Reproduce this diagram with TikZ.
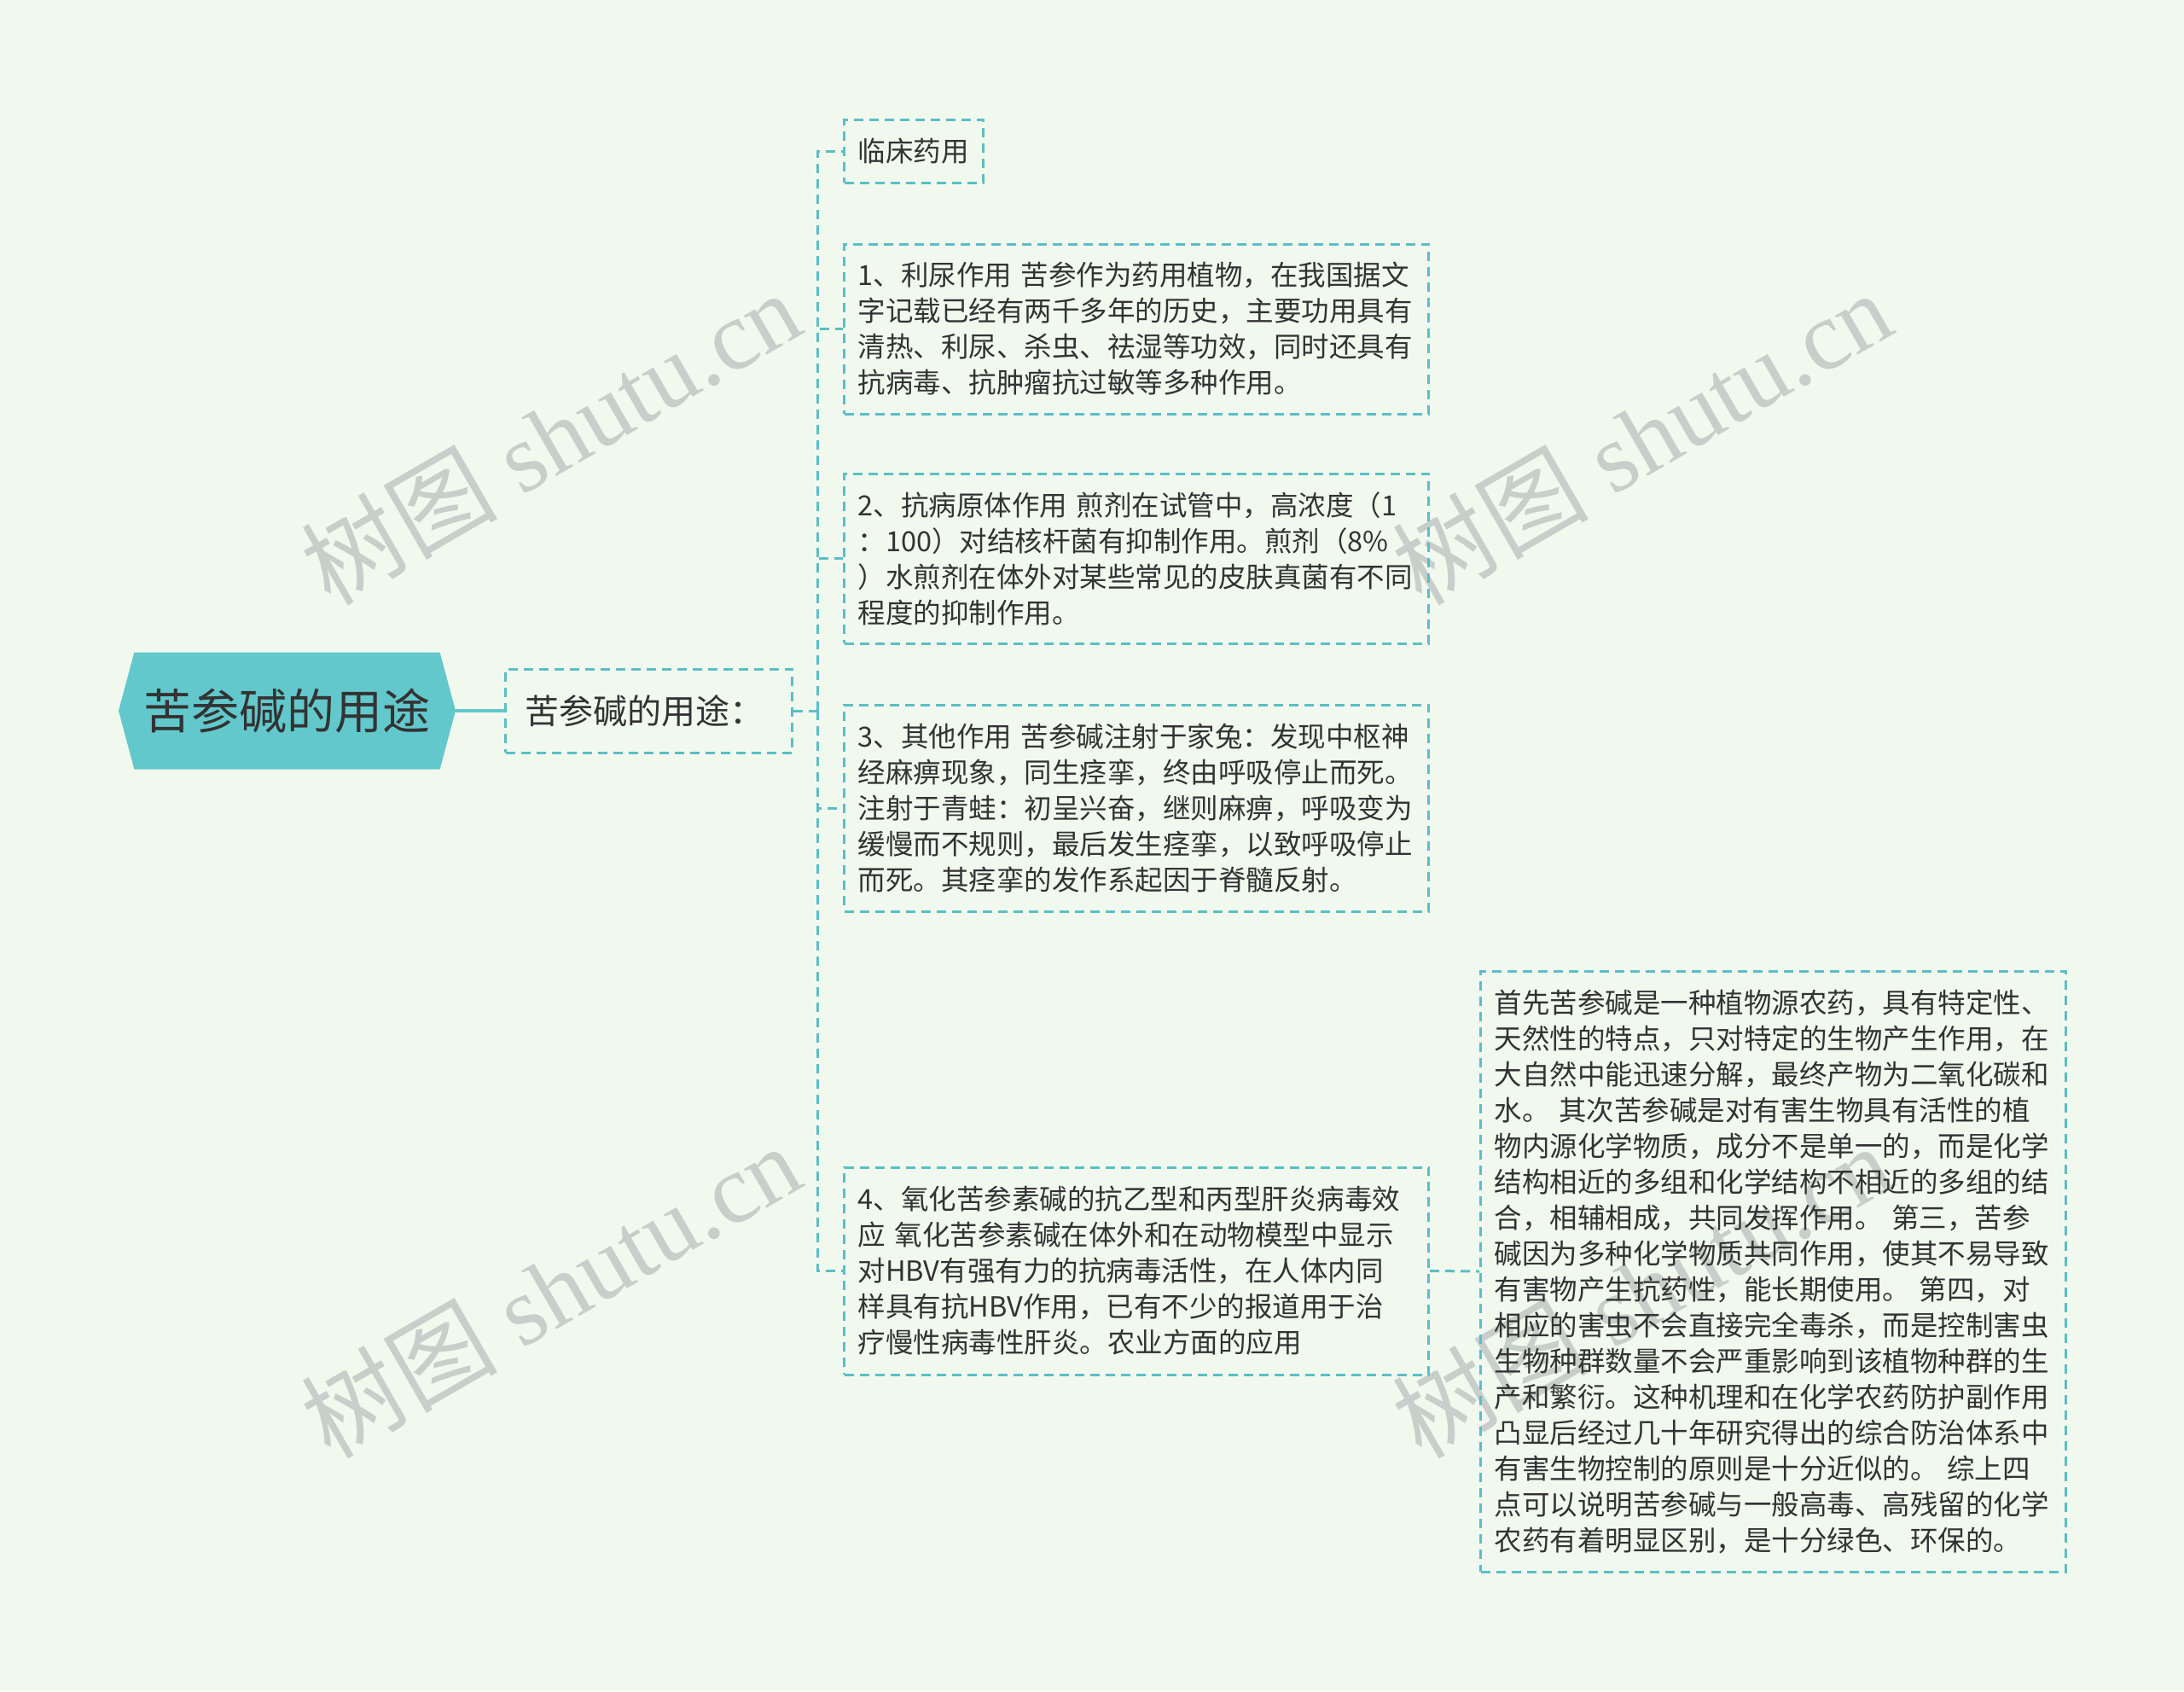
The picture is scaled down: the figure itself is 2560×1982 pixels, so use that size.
\documentclass[tikz,border=0pt]{standalone}
\usepackage{fontspec}
\setmainfont{Noto Sans CJK SC}
\newfontfamily\wmserif{Liberation Serif}
\newfontfamily\wmcjk{Noto Sans CJK SC}
\usetikzlibrary{shapes.symbols}
\definecolor{bgc}{HTML}{F1F9EF}
\definecolor{rootc}{HTML}{62C8CB}
\definecolor{dashc}{HTML}{5BBEC6}
\definecolor{txt}{HTML}{333333}
\definecolor{wmc}{RGB}{200,207,202}
\begin{document}
\begin{tikzpicture}[x=1pt,y=-1pt,
  every node/.style={text=txt},
  conn/.style={draw=dashc, line width=3pt, dash pattern=on 11pt off 7pt},
  leaf/.style={draw=dashc, line width=3pt, dash pattern=on 11pt off 7pt, anchor=west, align=left,
    inner xsep=16pt, inner ysep=0pt, font=\fontsize{32.5}{42}\selectfont},
  wm/.style={text=wmc, rotate=30, inner sep=0pt, font=\fontsize{115}{115}\selectfont}
]
\fill[bgc] (0,0) rectangle (2560,1982);
\useasboundingbox (0,0) rectangle (2560,1982);

% watermarks
\node[wm] (w1) at (645,512) {\wmcjk 树图\wmserif\ shutu.cn};
\node[wm] (w2) at (1924,512) {\wmcjk 树图\wmserif\ shutu.cn};
\node[wm] (w3) at (645,1512) {\wmcjk 树图\wmserif\ shutu.cn};
\node[wm] (w4) at (1924,1512) {\wmcjk 树图\wmserif\ shutu.cn};

% root
\node[shape=signal, signal to=east and west, signal pointer angle=150, fill=rootc,
  minimum width=395pt, minimum height=137pt, inner xsep=5pt, inner ysep=0pt,
  font=\fontsize{56}{56}\selectfont] (root) at (336.5,833) {苦参碱的用途};

% sub
\node[leaf, text width=290pt, inner xsep=23pt, minimum height=98pt,
  font=\fontsize{40}{48}\selectfont] (sub) at (591,833) {苦参碱的用途：};

% children
\node[leaf, text width=131pt, minimum height=74pt] (c0) at (988,177) {临床药用};

\node[leaf, text width=653pt, minimum height=199pt] (c1) at (988,385.5) {%
1、利尿作用 苦参作为药用植物，在我国据文\\%
字记载已经有两千多年的历史，主要功用具有\\%
清热、利尿、杀虫、祛湿等功效，同时还具有\\%
抗病毒、抗肿瘤抗过敏等多种作用。};

\node[leaf, text width=653pt, minimum height=199pt] (c2) at (988,654.5) {%
2、抗病原体作用 煎剂在试管中，高浓度（1\\%
：100）对结核杆菌有抑制作用。煎剂（8\%\\%
）水煎剂在体外对某些常见的皮肤真菌有不同\\%
程度的抑制作用。};

\node[leaf, text width=653pt, minimum height=242pt] (c3) at (988,947) {%
3、其他作用 苦参碱注射于家兔：发现中枢神\\%
经麻痹现象，同生痉挛，终由呼吸停止而死。\\%
注射于青蛙：初呈兴奋，继则麻痹，呼吸变为\\%
缓慢而不规则，最后发生痉挛，以致呼吸停止\\%
而死。其痉挛的发作系起因于脊髓反射。};

\node[leaf, text width=653pt, minimum height=243pt] (c4) at (988,1489.5) {%
4、氧化苦参素碱的抗乙型和丙型肝炎病毒效\\%
应 氧化苦参素碱在体外和在动物模型中显示\\%
对HBV有强有力的抗病毒活性，在人体内同\\%
样具有抗HBV作用，已有不少的报道用于治\\%
疗慢性病毒性肝炎。农业方面的应用};

\node[leaf, text width=654pt, minimum height=704pt] (r) at (1734,1490) {%
首先苦参碱是一种植物源农药，具有特定性、\\%
天然性的特点，只对特定的生物产生作用，在\\%
大自然中能迅速分解，最终产物为二氧化碳和\\%
水。 其次苦参碱是对有害生物具有活性的植\\%
物内源化学物质，成分不是单一的，而是化学\\%
结构相近的多组和化学结构不相近的多组的结\\%
合，相辅相成，共同发挥作用。 第三，苦参\\%
碱因为多种化学物质共同作用，使其不易导致\\%
有害物产生抗药性，能长期使用。 第四，对\\%
相应的害虫不会直接完全毒杀，而是控制害虫\\%
生物种群数量不会严重影响到该植物种群的生\\%
产和繁衍。这种机理和在化学农药防护副作用\\%
凸显后经过几十年研究得出的综合防治体系中\\%
有害生物控制的原则是十分近似的。 综上四\\%
点可以说明苦参碱与一般高毒、高残留的化学\\%
农药有着明显区别，是十分绿色、环保的。};

% connectors
\draw[draw=rootc, line width=4pt] (root.east) -- (sub.west);
\coordinate (sp) at (958,833);
\draw[conn] (sub.east) -- (sp);
\foreach \n in {c0,c1,c2,c3,c4} \draw[conn] (sp) |- (\n.west);
\draw[conn] (c4.east) -- (r.west);
\end{tikzpicture}
\end{document}
